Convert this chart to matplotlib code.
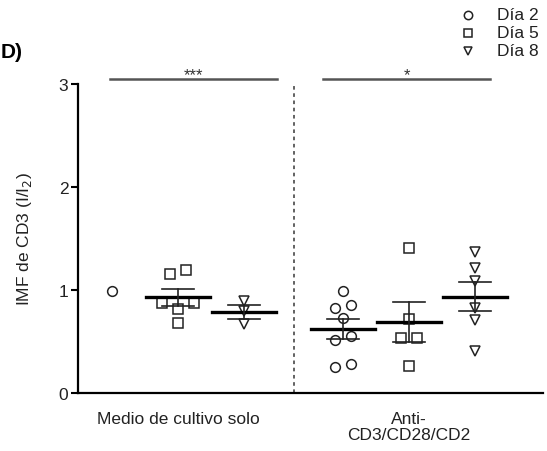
import numpy as np
import matplotlib
matplotlib.use('Agg')
import matplotlib.pyplot as plt
from matplotlib.lines import Line2D

plt.rcParams['font.family'] = ['Liberation Sans', 'DejaVu Sans']

# Data (IMF de CD3, I/I2)
groups = ['Medio de cultivo solo', 'Anti-\nCD3/CD28/CD2']
days = ['Día 2', 'Día 5', 'Día 8']
markers = ['o', 's', 'v']

medio_dia2 = [0.99]
medio_dia5 = [1.19, 1.155, 0.87, 0.82, 0.87, 0.68]
medio_dia8 = [0.89, 0.80, 0.67]
anti_dia2 = [0.99, 0.85, 0.83, 0.73, 0.51, 0.55, 0.25, 0.28]
anti_dia5 = [1.41, 0.72, 0.53, 0.53, 0.26]
anti_dia8 = [1.37, 1.21, 1.09, 0.83, 0.71, 0.41]
signif = ['***', '*']

series = [[medio_dia2, medio_dia5, medio_dia8],
          [anti_dia2, anti_dia5, anti_dia8]]


def swarm(vals, tol=0.06, step=0.24):
    # spread points that overlap vertically
    vals = np.asarray(vals, float)
    order = np.argsort(vals, kind='stable')
    off = np.zeros(len(vals))
    clusters = [[order[0]]]
    for k in order[1:]:
        if vals[k] - vals[clusters[-1][-1]] < tol:
            clusters[-1].append(k)
        else:
            clusters.append([k])
    for c in clusters:
        n = len(c)
        slots = sorted((np.arange(n) - (n - 1) / 2) * step, key=abs)
        for idx, s in zip(c, slots):
            off[idx] = s
    return off


fig = plt.figure(figsize=(5.47, 4.52), dpi=100)
ax = fig.add_axes([78 / 547, 58 / 452, 465 / 547, 309 / 452])

col = '#222222'
txt = '#222222'
centers = [1.0, 4.5]
for gi, grp in enumerate(series):
    for di, vals in enumerate(grp):
        x0 = centers[gi] + (di - 1)
        v = np.asarray(vals, float)
        ax.plot(x0 + swarm(v), v, linestyle='none', marker=markers[di], ms=7,
                mfc='none', mec=col, mew=1.1, zorder=3)
        if len(v) > 1:
            m = v.mean()
            sem = v.std(ddof=1) / np.sqrt(len(v))
            ax.plot([x0 - 0.48, x0 + 0.48], [m, m], color='black', lw=2.4, zorder=4)
            ax.plot([x0, x0], [m - sem, m + sem], color=col, lw=1.2, zorder=4)
            for y in (m - sem, m + sem):
                ax.plot([x0 - 0.24, x0 + 0.24], [y, y], color=col, lw=1.2, zorder=4)

# separator between conditions
ax.plot([2.75, 2.75], [0, 3.0], color='#555555', lw=1.3, ls=(0, (2, 2)), clip_on=False)

# significance bars
bars = [(-0.03, 2.5), (3.2, 5.73)]
for (a, b), s in zip(bars, signif):
    ax.plot([a, b], [3.05, 3.05], color='#555555', lw=1.8, clip_on=False)
    ax.text((a + b) / 2, 3.02, s, ha='center', va='bottom', fontsize=12, color='#333333')

ax.set_xlim(-0.515, 6.53)
ax.set_ylim(0, 3)
ax.set_yticks([0, 1, 2, 3])
ax.set_xticks(centers)
ax.set_xticklabels(groups, fontsize=12.5, va='top', linespacing=1.1, color=txt)
ax.tick_params(axis='x', length=0, pad=13)
ax.tick_params(axis='y', length=5, width=1.5, labelsize=12.5, pad=2, direction='out',
               labelcolor=txt)
for side in ('top', 'right'):
    ax.spines[side].set_visible(False)
for side in ('left', 'bottom'):
    ax.spines[side].set_linewidth(1.6)
ax.set_ylabel('IMF de CD3 (I/I$_2$)', fontsize=12.5, color=txt)
ax.yaxis.set_label_coords(-0.095, 0.5)

# legend in the upper right corner
for i, (d, mk) in enumerate(zip(days, markers)):
    y = 1 - (15.5 + 18 * i) / 452
    fig.add_artist(Line2D([468 / 547], [y], marker=mk, ms=6, mfc='none', mec=col,
                          mew=1.1, linestyle='none', transform=fig.transFigure))
    fig.text(497 / 547, y, d, fontsize=12.5, va='center', ha='left', color=txt)

# panel letter at the left edge
fig.text(1 / 547, 1 - 52 / 452, 'D)', fontsize=15, fontweight='bold', ha='left', va='center')

fig.savefig('out.png', dpi=100)
